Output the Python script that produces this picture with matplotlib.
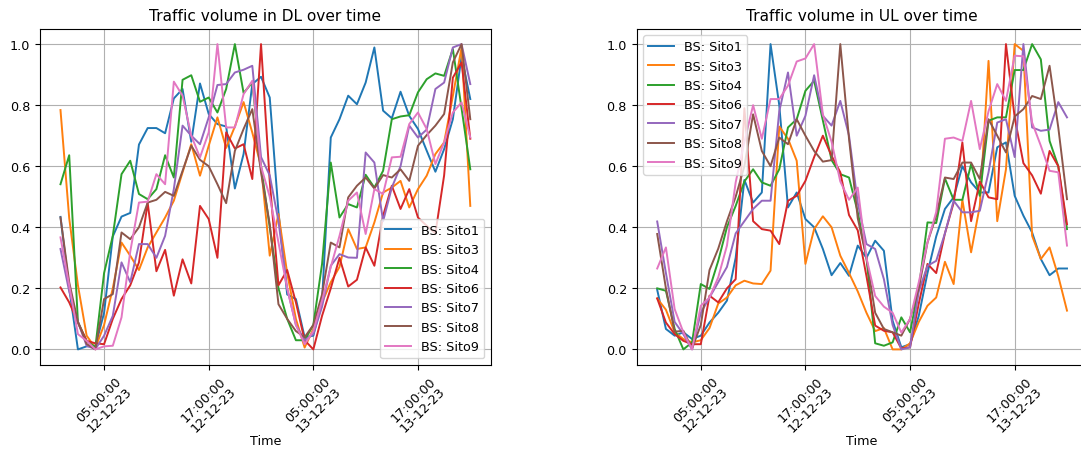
import pandas as pd
import matplotlib
matplotlib.use("Agg")
import matplotlib.pyplot as plt
import matplotlib.dates as mdates

plt.rcParams["font.size"] = 9.2
plt.rcParams["lines.linewidth"] = 1.4

# hourly samples, 12-12-2023 00:00 .. 13-12-2023 23:00
times = pd.date_range("2023-12-12 00:00", periods=48, freq="h")
sites = ["Sito1", "Sito3", "Sito4", "Sito6", "Sito7", "Sito8", "Sito9"]

# normalised downlink volume per site
dl_sito1 = [0.434, 0.2, 0.0, 0.01, 0.01, 0.12, 0.37, 0.435, 0.447, 0.671, 0.725, 0.725,
            0.708, 0.822, 0.853, 0.68, 0.871, 0.771, 0.738, 0.73, 0.527, 0.64, 0.869, 0.893,
            0.825, 0.45, 0.18, 0.165, 0.04, 0.045, 0.16, 0.694, 0.754, 0.831, 0.803, 0.874,
            0.989, 0.782, 0.757, 0.844, 0.765, 0.722, 0.651, 0.582, 0.656, 0.754, 0.96, 0.82]
dl_sito3 = [0.784, 0.43, 0.21, 0.045, 0.005, 0.08, 0.2, 0.35, 0.307, 0.26, 0.334, 0.383,
            0.432, 0.487, 0.58, 0.672, 0.569, 0.667, 0.76, 0.66, 0.73, 0.81, 0.71, 0.6,
            0.307, 0.443, 0.25, 0.1, 0.006, 0.067, 0.154, 0.22, 0.27, 0.394, 0.329, 0.334,
            0.416, 0.514, 0.53, 0.552, 0.465, 0.525, 0.569, 0.64, 0.678, 0.83, 0.989, 0.47]
dl_sito4 = [0.541, 0.636, 0.09, 0.028, 0.007, 0.25, 0.372, 0.574, 0.618, 0.509, 0.492, 0.525,
            0.636, 0.563, 0.883, 0.898, 0.811, 0.825, 0.776, 0.853, 1.0, 0.84, 0.874, 0.6,
            0.4, 0.2, 0.1, 0.03, 0.03, 0.08, 0.28, 0.612, 0.432, 0.476, 0.465, 0.572,
            0.53, 0.585, 0.754, 0.763, 0.767, 0.842, 0.885, 0.904, 0.896, 0.984, 0.79, 0.59]
dl_sito6 = [0.203, 0.154, 0.088, 0.028, 0.02, 0.017, 0.1, 0.165, 0.21, 0.285, 0.48, 0.256,
            0.326, 0.176, 0.295, 0.216, 0.47, 0.427, 0.3, 0.711, 0.658, 0.672, 0.558, 1.0,
            0.55, 0.21, 0.26, 0.154, 0.03, 0.0, 0.11, 0.2, 0.3, 0.206, 0.228, 0.334,
            0.274, 0.438, 0.536, 0.46, 0.525, 0.432, 0.405, 0.38, 0.57, 0.89, 0.94, 0.69]
dl_sito7 = [0.329, 0.19, 0.09, 0.012, 0.001, 0.045, 0.11, 0.285, 0.22, 0.345, 0.345, 0.3,
            0.372, 0.525, 0.733, 0.7, 0.672, 0.76, 0.866, 0.869, 0.907, 0.916, 0.929, 0.63,
            0.57, 0.42, 0.2, 0.08, 0.03, 0.05, 0.14, 0.274, 0.312, 0.301, 0.3, 0.645,
            0.612, 0.42, 0.53, 0.6, 0.733, 0.694, 0.72, 0.853, 0.874, 0.989, 1.0, 0.869]
dl_sito8 = [0.432, 0.22, 0.09, 0.018, 0.0, 0.165, 0.181, 0.383, 0.361, 0.4, 0.481, 0.49,
            0.516, 0.503, 0.585, 0.667, 0.621, 0.6, 0.541, 0.479, 0.65, 0.722, 0.787, 0.58,
            0.41, 0.148, 0.1, 0.06, 0.04, 0.08, 0.18, 0.35, 0.334, 0.498, 0.536, 0.563,
            0.527, 0.571, 0.563, 0.59, 0.552, 0.667, 0.702, 0.733, 0.771, 0.94, 1.0, 0.754]
dl_sito9 = [0.367, 0.21, 0.05, 0.028, 0.0, 0.01, 0.012, 0.105, 0.32, 0.481, 0.484, 0.574,
            0.541, 0.877, 0.831, 0.7, 0.629, 0.711, 1.0, 0.727, 0.727, 0.836, 0.88, 0.6,
            0.5, 0.35, 0.2, 0.08, 0.017, 0.06, 0.16, 0.27, 0.372, 0.487, 0.514, 0.378,
            0.525, 0.509, 0.629, 0.631, 0.738, 0.776, 0.722, 0.607, 0.678, 0.776, 0.809, 0.694]

# normalised uplink volume per site
ul_sito1 = [0.195, 0.067, 0.045, 0.056, 0.034, 0.045, 0.088, 0.12, 0.16, 0.3, 0.555, 0.481,
            0.514, 1.0, 0.8, 0.465, 0.514, 0.427, 0.4, 0.329, 0.243, 0.283, 0.241, 0.34,
            0.3, 0.356, 0.323, 0.094, 0.007, 0.017, 0.11, 0.25, 0.37, 0.46, 0.498, 0.6,
            0.547, 0.514, 0.514, 0.662, 0.678, 0.503, 0.438, 0.383, 0.296, 0.243, 0.265, 0.265]
ul_sito3 = [0.167, 0.13, 0.056, 0.034, 0.023, 0.03, 0.07, 0.15, 0.17, 0.21, 0.225, 0.216,
            0.214, 0.258, 0.73, 0.69, 0.618, 0.28, 0.394, 0.436, 0.4, 0.307, 0.25, 0.19,
            0.12, 0.06, 0.07, 0.0, 0.0, 0.02, 0.09, 0.143, 0.17, 0.287, 0.214, 0.49,
            0.318, 0.47, 0.945, 0.42, 0.59, 1.0, 0.978, 0.372, 0.296, 0.334, 0.24, 0.127]
ul_sito4 = [0.2, 0.192, 0.067, 0.0, 0.023, 0.214, 0.198, 0.29, 0.4, 0.47, 0.55, 0.59,
            0.547, 0.536, 0.59, 0.727, 0.754, 0.847, 0.88, 0.75, 0.62, 0.574, 0.563, 0.45,
            0.3, 0.02, 0.012, 0.023, 0.105, 0.056, 0.2, 0.416, 0.414, 0.56, 0.49, 0.49,
            0.607, 0.503, 0.749, 0.76, 0.76, 0.915, 0.915, 1.0, 0.95, 0.683, 0.6, 0.394]
ul_sito6 = [0.167, 0.088, 0.05, 0.028, 0.017, 0.017, 0.176, 0.154, 0.2, 0.23, 0.79, 0.42,
            0.394, 0.389, 0.345, 0.487, 0.503, 0.552, 0.63, 0.7, 0.634, 0.58, 0.44, 0.39,
            0.24, 0.078, 0.061, 0.056, 0.003, 0.007, 0.15, 0.28, 0.25, 0.38, 0.48, 0.678,
            0.42, 0.55, 0.498, 0.492, 1.0, 0.76, 0.61, 0.57, 0.51, 0.65, 0.6, 0.41]
ul_sito7 = [0.419, 0.25, 0.09, 0.05, 0.0, 0.12, 0.17, 0.22, 0.27, 0.38, 0.42, 0.46,
            0.487, 0.487, 0.78, 0.907, 0.7, 0.765, 0.898, 0.765, 0.733, 0.814, 0.7, 0.48,
            0.345, 0.329, 0.23, 0.08, 0.0, 0.007, 0.19, 0.274, 0.29, 0.38, 0.487, 0.449,
            0.449, 0.454, 0.58, 0.743, 0.754, 0.63, 1.0, 0.727, 0.716, 0.72, 0.81, 0.76]
ul_sito8 = [0.378, 0.2, 0.058, 0.061, 0.003, 0.08, 0.26, 0.33, 0.42, 0.5, 0.6, 0.77,
            0.65, 0.6, 0.694, 0.672, 0.754, 0.7, 0.65, 0.615, 0.62, 1.0, 0.69, 0.43,
            0.3, 0.12, 0.067, 0.056, 0.045, 0.1, 0.2, 0.35, 0.438, 0.563, 0.558, 0.612,
            0.612, 0.558, 0.754, 0.7, 0.645, 0.763, 0.787, 0.83, 0.82, 0.929, 0.727, 0.492]
ul_sito9 = [0.265, 0.334, 0.132, 0.056, 0.0, 0.143, 0.17, 0.236, 0.34, 0.547, 0.68, 0.8,
            0.69, 0.82, 0.82, 0.864, 0.943, 0.953, 1.0, 0.77, 0.68, 0.55, 0.49, 0.53,
            0.3, 0.175, 0.14, 0.12, 0.055, 0.1, 0.22, 0.35, 0.45, 0.69, 0.694, 0.683,
            0.814, 0.656, 0.78, 0.869, 0.814, 0.962, 0.96, 0.743, 0.667, 0.585, 0.58, 0.34]

dl = pd.DataFrame(dict(zip(sites, [dl_sito1, dl_sito3, dl_sito4, dl_sito6,
                                   dl_sito7, dl_sito8, dl_sito9])), index=times)
ul = pd.DataFrame(dict(zip(sites, [ul_sito1, ul_sito3, ul_sito4, ul_sito6,
                                   ul_sito7, ul_sito8, ul_sito9])), index=times)

fig = plt.figure(figsize=(10.81, 4.52), dpi=100)
ax_dl = fig.add_axes([0.037, 0.191, 0.417, 0.743])
ax_ul = fig.add_axes([0.589, 0.191, 0.417, 0.743])

panels = [(ax_dl, dl, "DL", "lower right"), (ax_ul, ul, "UL", "upper left")]
for ax, df, direction, legend_loc in panels:
    for site in sites:
        ax.plot(df.index, df[site], label=f"BS: {site}")
    ax.set_title(f"Traffic volume in {direction} over time")
    ax.set_xlabel("Time", labelpad=0)
    ax.xaxis.set_major_locator(mdates.HourLocator(byhour=[5, 17]))
    ax.xaxis.set_major_formatter(mdates.DateFormatter("%H:%M:%S\n%d-%m-%y"))
    plt.setp(ax.get_xticklabels(), rotation=45, ha="center", linespacing=1.1)
    ax.grid(True)
    ax.legend(loc=legend_loc)

fig.savefig("out.png", dpi=100)
